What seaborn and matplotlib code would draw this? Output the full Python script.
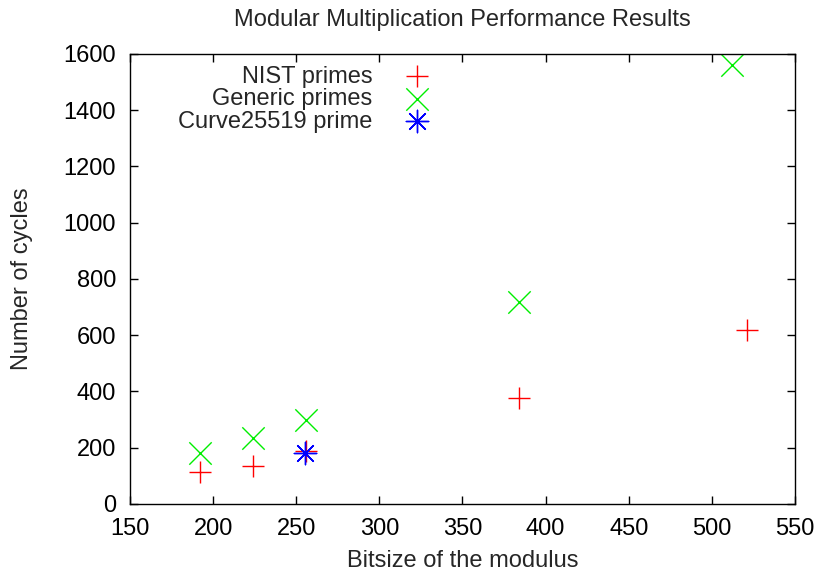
import pandas as pd
import seaborn as sns
import matplotlib.pyplot as plt

# Data
nist_bits = [192, 224, 256, 384, 521]
nist_cycles = [115, 135, 190, 377, 620]
generic_bits = [192, 224, 256, 384, 512]
generic_cycles = [181, 235, 299, 718, 1560]
curve_bits = [255]
curve_cycles = [180]

series_names = ['NIST primes', 'Generic primes', 'Curve25519 prime']
x_ticks = [150, 200, 250, 300, 350, 400, 450, 500, 550]
y_ticks = [0, 200, 400, 600, 800, 1000, 1200, 1400, 1600]


def main():
    sns.set_style('white')
    plt.rcParams['font.family'] = ['Liberation Sans', 'DejaVu Sans']

    nist_df = pd.DataFrame({'bits': nist_bits, 'cycles': nist_cycles})
    generic_df = pd.DataFrame({'bits': generic_bits, 'cycles': generic_cycles})
    curve_df = pd.DataFrame({'bits': curve_bits, 'cycles': curve_cycles})

    fig = plt.figure(figsize=(8.2, 5.74), dpi=100)
    ax = fig.add_axes([0.1585, 0.122, 0.811, 0.784])

    # gnuplot-like point types: +, x, and an 8-spoke asterisk
    sns.scatterplot(data=nist_df, x='bits', y='cycles', marker='+', s=260,
                    color='#ff0000', linewidth=1.0, label=series_names[0], ax=ax)
    sns.scatterplot(data=generic_df, x='bits', y='cycles', marker='x', s=260,
                    color='#00ee00', linewidth=1.0, label=series_names[1], ax=ax)
    sns.scatterplot(data=curve_df, x='bits', y='cycles', marker=(8, 2, 0), s=260,
                    color='#0000ff', linewidth=1.0, label=series_names[2], ax=ax)

    ax.set_xlim(150, 550)
    ax.set_ylim(0, 1600)
    ax.set_xticks(x_ticks)
    ax.set_yticks(y_ticks)
    ax.tick_params(axis='both', direction='in', length=6, width=1, labelsize=17,
                   top=True, right=True, bottom=True, left=True, pad=10, colors='black')
    for spine in ax.spines.values():
        spine.set_visible(True)
        spine.set_color('black')
        spine.set_linewidth(1.0)

    ax.set_title('Modular Multiplication Performance Results', fontsize=17, pad=20)
    ax.set_xlabel('Bitsize of the modulus', fontsize=17, labelpad=7)
    ax.set_ylabel('Number of cycles', fontsize=17, labelpad=22)

    ax.legend(loc='upper right', bbox_to_anchor=(0.473, 0.995), markerfirst=False,
              frameon=False, fontsize=17, handletextpad=1.15, labelspacing=0.02,
              borderaxespad=0, handlelength=1.5)

    fig.savefig('out.png', dpi=100)


if __name__ == "__main__":
    main()
